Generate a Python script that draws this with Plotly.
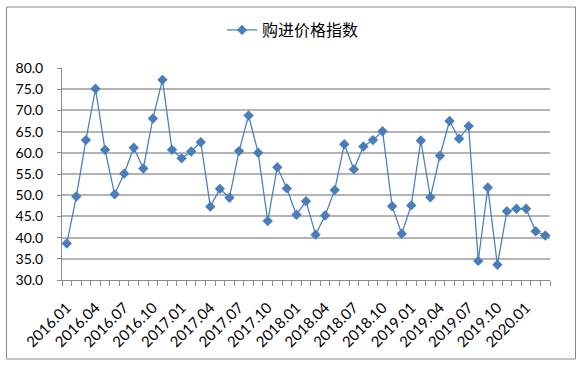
import plotly.graph_objects as go

months = [f"{y}.{m:02d}" for y in range(2016, 2021) for m in range(1, 13)][:51]
values = [38.6, 49.7, 63.0, 75.1, 60.7, 50.2, 55.1, 61.2, 56.3, 68.1, 77.2, 60.7,
          58.7, 60.3, 62.5, 47.3, 51.5, 49.4, 60.4, 68.8, 60.0, 43.9, 56.6, 51.6,
          45.4, 48.6, 40.7, 45.2, 51.2, 62.0, 56.1, 61.5, 63.0, 65.1, 47.4, 40.9,
          47.6, 62.9, 49.5, 59.3, 67.5, 63.3, 66.3, 34.5, 51.8, 33.6, 46.2, 46.8,
          46.8, 41.5, 40.5]
series_name = "购进价格指数"
tick_text = [m if i % 3 == 0 else "" for i, m in enumerate(months)]

L, R, T, B = 62, 34, 68, 88
W, H = 584, 368
pw, ph = W - L - R, H - T - B

def px(x):
    return (x - L) / pw

def py(y):
    return (H - B - y) / ph

fig = go.Figure()
fig.add_trace(go.Scatter(
    x=months, y=values, mode="lines+markers", name=series_name,
    line=dict(color="#4A7EBB", width=1.25),
    marker=dict(symbol="diamond", size=8, color="#4A7EBB"),
))

axis_color = "#8C8C8C"
fig.update_layout(
    width=W, height=H,
    margin=dict(l=L, r=R, t=T, b=B, autoexpand=False),
    paper_bgcolor="white", plot_bgcolor="white",
    font=dict(family="Lato", size=14, color="#000000"),
    showlegend=True,
    legend=dict(orientation="h", x=px(222), xanchor="left", y=py(30), yanchor="middle",
                itemwidth=30,
                font=dict(family="Noto Sans CJK SC", size=16), bgcolor="rgba(0,0,0,0)"),
    xaxis=dict(type="category", categoryorder="array", categoryarray=months,
               tickmode="array", tickvals=months, ticktext=tick_text,
               tickson="boundaries", ticks="outside", ticklen=5, tickcolor=axis_color,
               tickangle=-45, showgrid=False, showline=True, linecolor=axis_color,
               linewidth=1, range=[-0.5, len(months) - 0.5], automargin=False,
               ticklabelstandoff=12,
               tickfont=dict(family="Lato", size=15)),
    yaxis=dict(range=[30, 80], dtick=5, tick0=30, tickformat=".1f",
               showgrid=True, gridcolor="#B4B4B4", gridwidth=1.5,
               showline=True, linecolor=axis_color, linewidth=1,
               ticks="outside", ticklen=4, tickcolor=axis_color, automargin=False,
               ticklabelstandoff=11,
               zeroline=False, tickfont=dict(family="Lato", size=14)),
    shapes=[dict(type="rect", xref="paper", yref="paper",
                 x0=px(6.5), x1=px(575.5), y0=py(359), y1=py(7),
                 line=dict(color="#888888", width=1), fillcolor="rgba(0,0,0,0)")],
)

fig.write_html("out.html", config={"displayModeBar": False},
               post_script="document.body.style.margin='0';")
